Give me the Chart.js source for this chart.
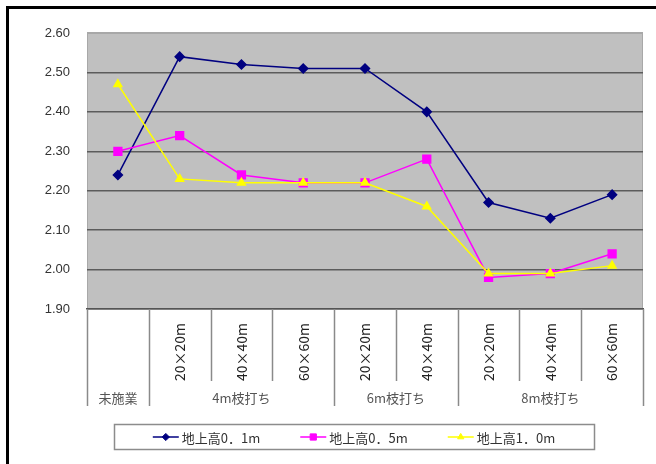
<!DOCTYPE html>
<html>
<head>
<meta charset="utf-8">
<script src="https://cdn.jsdelivr.net/npm/chart.js@4.4.0/dist/chart.umd.min.js"></script>
<style>
  html, body { margin: 0; padding: 0; background: #fff; }
  #wrap { position: relative; width: 656px; height: 464px; overflow: hidden; }
  #frame { position: absolute; left: 6px; top: 6px; width: 700px; height: 500px; border-left: 3px solid #000; border-top: 3px solid #000; }
  canvas { position: absolute; left: 0; top: 0; }
</style>
</head>
<body>
<div id="wrap">
  <div id="frame"></div>
  <canvas id="chart" width="656" height="464"></canvas>
</div>
<script>
// plot sizes under each pruning height
const sizeLabels = ['', '20×20m', '40×40m', '60×60m', '20×20m', '40×40m', '20×20m', '40×40m', '60×60m'];
const groupLabels = ['未施業', '4m枝打ち', '6m枝打ち', '8m枝打ち'];
const groupSpans = [1, 3, 2, 3];

const seriesNames = ['地上高0．1m', '地上高0．5m', '地上高1．0m'];
const height01 = [2.24, 2.54, 2.52, 2.51, 2.51, 2.40, 2.17, 2.13, 2.19];
const height05 = [2.30, 2.34, 2.24, 2.22, 2.22, 2.28, 1.98, 1.99, 2.04];
const height10 = [2.47, 2.23, 2.22, 2.22, 2.22, 2.16, 1.99, 1.99, 2.01];

const yMin = 1.9;
const yMax = 2.6;
const yStep = 0.1;

const jpFont = '"Noto Sans CJK JP", "Noto Sans", sans-serif';
const numFont = '"Liberation Sans", Arial, sans-serif';

// grey plot area with a thin light border
const plotBackground = {
  id: 'plotBackground',
  beforeDraw(chart) {
    const { ctx, chartArea: a } = chart;
    ctx.save();
    ctx.fillStyle = '#c0c0c0';
    ctx.fillRect(a.left, a.top, a.right - a.left, a.bottom - a.top);
    ctx.strokeStyle = '#a8a8a8';
    ctx.lineWidth = 1;
    ctx.strokeRect(a.left + 0.5, a.top + 0.5, a.right - a.left - 1, a.bottom - a.top - 1);
    ctx.restore();
  }
};

// second level of the category axis: dividers and group names
const categoryGroups = {
  id: 'categoryGroups',
  afterDraw(chart) {
    const { ctx, chartArea: a } = chart;
    const x = chart.scales.x;
    const half = (x.getPixelForValue(1) - x.getPixelForValue(0)) / 2;
    const edge = i => x.getPixelForValue(i) - half;

    const groupEdges = [0];
    groupSpans.forEach(n => groupEdges.push(groupEdges[groupEdges.length - 1] + n));

    ctx.save();
    ctx.strokeStyle = '#8a8a8a';
    ctx.lineWidth = 1.5;
    for (let i = 0; i <= sizeLabels.length; i++) {
      const long = groupEdges.includes(i);
      const px = Math.round(edge(i)) + 0.5;
      ctx.beginPath();
      ctx.moveTo(px, a.bottom);
      ctx.lineTo(px, a.bottom + (long ? 97 : 72));
      ctx.stroke();
    }

    ctx.fillStyle = '#555';
    ctx.font = '13px ' + jpFont;
    ctx.textAlign = 'center';
    ctx.textBaseline = 'middle';
    groupLabels.forEach((label, g) => {
      const cx = (edge(groupEdges[g]) + edge(groupEdges[g + 1])) / 2;
      ctx.fillText(label, cx, a.bottom + 89);
    });
    ctx.restore();
  }
};

function drawMarker(ctx, style, radius, color, cx, cy) {
  if (Chart.helpers && Chart.helpers.drawPoint) {
    ctx.fillStyle = color;
    ctx.strokeStyle = color;
    ctx.lineWidth = 1;
    Chart.helpers.drawPoint(ctx, { pointStyle: style, radius: radius, rotation: 0, borderWidth: 1 }, cx, cy);
  }
}

// boxed legend below the axis, line + marker for each series
const legendBox = {
  id: 'legendBox',
  afterDraw(chart, args, opts) {
    const { ctx } = chart;
    const sets = chart.data.datasets;
    ctx.save();
    ctx.font = '13px ' + jpFont;
    const iconW = 26, gap = 3, spacing = 40, pad = 39;
    const widths = sets.map(ds => iconW + gap + ctx.measureText(ds.label).width);
    const total = widths.reduce((s, w) => s + w, 0) + spacing * (sets.length - 1);
    let x = opts.centerX - total / 2;
    const cy = opts.centerY;

    ctx.strokeStyle = '#8c8c8c';
    ctx.lineWidth = 1.5;
    ctx.strokeRect(Math.round(x - pad) + 0.5, cy - 12.5, Math.round(total + pad * 2), 25);

    sets.forEach((ds, i) => {
      ctx.strokeStyle = ds.borderColor;
      ctx.lineWidth = 1.5;
      ctx.beginPath();
      ctx.moveTo(x, cy);
      ctx.lineTo(x + iconW, cy);
      ctx.stroke();
      drawMarker(ctx, ds.pointStyle, ds.pointRadius * 0.8, ds.borderColor, x + iconW / 2, cy);
      ctx.fillStyle = '#333';
      ctx.textAlign = 'left';
      ctx.textBaseline = 'middle';
      ctx.fillText(ds.label, x + iconW + gap, cy + 1);
      x += widths[i] + spacing;
    });
    ctx.restore();
  }
};

new Chart(document.getElementById('chart').getContext('2d'), {
  type: 'line',
  data: {
    labels: sizeLabels,
    datasets: [
      {
        label: seriesNames[0],
        data: height01,
        borderColor: '#000080',
        backgroundColor: '#000080',
        borderWidth: 1.5,
        pointStyle: 'rectRot',
        pointRadius: 4.5,
        order: 3,
      },
      {
        label: seriesNames[1],
        data: height05,
        borderColor: '#ff00ff',
        backgroundColor: '#ff00ff',
        borderWidth: 1.5,
        pointStyle: 'rect',
        pointRadius: 5.5,
        order: 2,
      },
      {
        label: seriesNames[2],
        data: height10,
        borderColor: '#ffff00',
        backgroundColor: '#ffff00',
        borderWidth: 1.5,
        pointStyle: 'triangle',
        pointRadius: 4.5,
        order: 1,
      },
    ],
  },
  options: {
    responsive: false,
    animation: false,
    events: [],
    layout: { padding: { top: 33, right: 13, left: 0, bottom: 0 } },
    plugins: {
      legend: { display: false },
      tooltip: { enabled: false },
      legendBox: { centerX: 354, centerY: 437 },
    },
    scales: {
      x: {
        offset: true,
        grid: { display: false },
        border: { display: true, color: '#555', width: 1.5 },
        ticks: {
          autoSkip: false,
          minRotation: 90,
          maxRotation: 90,
          padding: 6,
          color: '#222',
          font: { family: jpFont, size: 14 },
        },
        afterFit(scale) { scale.height = 155; },
      },
      y: {
        min: yMin,
        max: yMax,
        border: { display: false },
        grid: {
          drawTicks: false,
          lineWidth: 1.5,
          color: c => (c.tick && c.tick.value > yMax - yStep / 2 ? '#a8a8a8' : '#5c5c5c'),
        },
        ticks: {
          stepSize: yStep,
          padding: 17,
          color: '#333',
          font: { family: numFont, size: 13 },
          callback: v => Number(v).toFixed(2),
        },
        afterFit(scale) { scale.width = 87; },
      },
    },
  },
  plugins: [plotBackground, categoryGroups, legendBox],
});
</script>
</body>
</html>
